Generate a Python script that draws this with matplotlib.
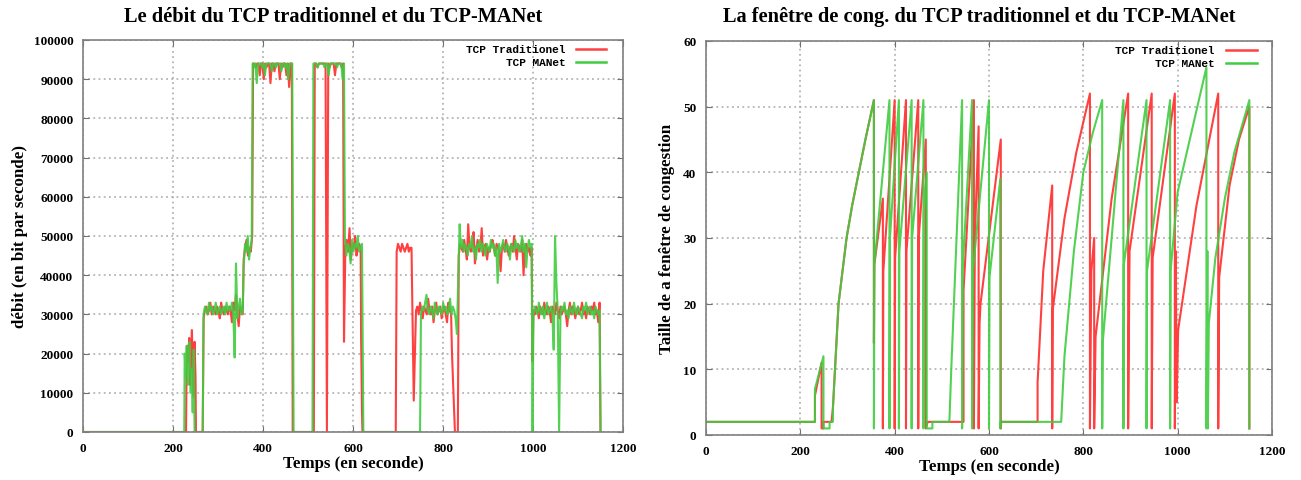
import numpy as np
import matplotlib
matplotlib.use('Agg')
import matplotlib.pyplot as plt

# Débit (en kbit/s) : segments (t_debut, t_fin, valeurs)
debit_trad = [
    (0, 229, [0, 0]),
    (230, 250, [15, 22, 18, 24, 12, 20, 26, 16, 9, 23, 14]),
    (251, 266, [0, 0]),
    (268, 355, [29, 31, 32, 30, 31, 33, 30, 32, 31, 30, 32, 31, 29, 33, 31,
                30, 32, 31, 30, 32, 31, 28, 33, 31, 35, 30, 27, 32, 31, 30]),
    (357, 376, [44, 47, 49, 45, 47, 46, 50]),
    (378, 464, [94, 94, 93, 94, 94, 91, 94, 94, 90, 94, 93, 94, 94, 89, 94,
                94, 92, 94, 94, 94, 90, 94, 93, 94, 94, 91, 94, 88, 94, 94]),
    (466, 513, [0, 0]),
    (515, 578, [94, 94, 93, 94, 94, 94, 94, 94, 94, 0, 94, 93, 94, 94, 94,
                91, 94, 94, 94, 94, 93, 94]),
    (580, 580, [23]),
    (583, 617, [47, 49, 46, 52, 44, 48, 47, 50, 45, 47, 48, 47]),
    (618, 620, [24, 5]),
    (621, 695, [0, 0]),
    (697, 730, [46, 48, 47, 46, 48, 47, 46, 47, 48, 46, 47, 47]),
    (735, 735, [8]),
    (740, 818, [31, 32, 30, 33, 31, 29, 32, 31, 30, 34, 31, 30, 32, 28, 31,
                33, 30, 31, 32, 29, 31, 32, 30, 28, 33, 31, 30]),
    (820, 833, [20, 0, 0]),
    (835, 997, [45, 48, 47, 46, 49, 47, 44, 53, 47, 46, 48, 51, 43, 47, 49,
                46, 47, 52, 45, 47, 48, 44, 47, 46, 48, 49, 47, 45, 48, 47,
                46, 41, 47, 48, 46, 49, 47, 45, 47, 48, 46, 50, 47, 44, 48,
                47, 46, 49, 40, 47, 48, 46, 47, 45, 47]),
    (999, 999, [18]),
    (1001, 1148, [31, 30, 32, 31, 29, 32, 31, 30, 33, 31, 30, 32, 31, 28, 32,
                  31, 30, 33, 31, 29, 32, 30, 31, 32, 30, 27, 31, 33, 30, 32,
                  31, 29, 31, 32, 30, 31, 33, 30, 31, 29, 32, 31, 30, 32, 31,
                  33, 30, 31, 28, 33]),
    (1150, 1150, [0]),
]

debit_manet = [
    (0, 225, [0, 0]),
    (226, 246, [20, 14, 22, 12, 18, 23, 10, 16, 5, 21]),
    (248, 266, [0, 0]),
    (268, 355, [30, 32, 31, 30, 33, 31, 32, 30, 31, 33, 30, 31, 32, 30, 31,
                32, 30, 33, 31, 32, 31, 33, 30, 19, 43, 29, 32, 34, 30, 31]),
    (357, 375, [42, 48, 46, 50, 44, 47, 49]),
    (377, 465, [94, 93, 94, 89, 94, 94, 94, 93, 94, 91, 94, 94, 94, 94, 92,
                94, 94, 93, 94, 94, 94, 92, 94, 94, 93, 94, 90, 94, 94, 94]),
    (468, 510, [0, 0]),
    (512, 580, [94, 94, 94, 93, 94, 94, 94, 94, 93, 94, 94, 91, 94, 94, 94,
                94, 94, 93, 94, 94, 94, 90, 94]),
    (582, 620, [50, 45, 48, 47, 43, 49, 46, 48, 47, 50, 46, 47, 48]),
    (623, 749, [0, 0]),
    (751, 828, [30, 32, 31, 33, 35, 31, 30, 32, 31, 29, 33, 31, 30, 32, 31,
                30, 33, 31, 32, 30, 31, 34, 30, 32, 31, 29]),
    (831, 837, [25, 40, 53]),
    (840, 997, [47, 49, 46, 48, 47, 45, 48, 47, 50, 46, 47, 44, 48, 47, 49,
                46, 48, 47, 45, 48, 47, 46, 49, 47, 48, 45, 47, 38, 48, 46,
                47, 49, 47, 46, 48, 47, 44, 48, 47, 46, 49, 47, 48, 46, 47,
                50, 46, 48, 42, 47, 49, 47, 48]),
    (999, 999, [0]),
    (1001, 1148, [30, 32, 31, 30, 33, 31, 30, 32, 29, 31, 33, 30, 31, 32, 30,
                  21, 50, 38, 31, 0, 30, 32, 31, 33, 30, 31, 29, 32, 31, 30,
                  33, 31, 30, 32, 31, 30, 29, 32, 31, 33, 30, 31, 32, 30, 31,
                  29, 32, 31, 30, 31]),
    (1150, 1150, [0]),
]

# Fenêtre de congestion : points (temps, taille)
cwnd_trad_t = [0, 231, 231, 245, 245, 249, 249, 266, 269, 281, 298, 310, 324,
               338, 356, 356, 357, 375, 375, 376, 400, 400, 401, 424, 424, 425,
               450, 450, 451, 466, 466, 470, 546, 546, 568, 568, 570, 578, 578,
               580, 582, 625, 625, 626, 703, 703, 715, 734, 734, 735, 760, 785,
               814, 814, 817, 823, 823, 826, 860, 895, 895, 898, 945, 945, 947,
               994, 994, 996, 998, 1001, 1040, 1086, 1086, 1088, 1110, 1130,
               1152, 1152]
cwnd_trad_v = [2, 2, 6, 11, 1, 1, 2, 2, 4, 20, 30, 35, 40, 45, 51, 14, 26, 36,
               1, 25, 51, 1, 27, 51, 1, 28, 51, 1, 30, 45, 1, 2, 2, 22, 51, 1,
               30, 47, 1, 17, 20, 45, 1, 2, 2, 8, 25, 38, 1, 19, 33, 43, 52, 1,
               25, 30, 1, 15, 36, 52, 1, 28, 52, 1, 27, 52, 1, 28, 5, 16, 35,
               52, 1, 24, 38, 45, 50, 1]

cwnd_manet_t = [0, 231, 231, 249, 249, 262, 262, 269, 269, 281, 298, 310, 324,
                338, 356, 356, 357, 389, 389, 390, 409, 409, 410, 436, 436, 437,
                461, 461, 462, 468, 468, 480, 480, 516, 520, 543, 543, 544, 564,
                564, 566, 600, 600, 601, 624, 624, 625, 753, 760, 780, 800, 820,
                840, 840, 841, 885, 885, 886, 934, 934, 935, 984, 984, 985, 1000,
                1061, 1061, 1063, 1064, 1066, 1080, 1100, 1120, 1152, 1152]
cwnd_manet_v = [2, 2, 7, 12, 1, 1, 2, 2, 4, 20, 30, 35, 40, 45, 51, 1, 26, 51,
                1, 30, 51, 1, 28, 51, 1, 30, 51, 1, 34, 40, 1, 1, 2, 2, 10, 51,
                1, 25, 51, 1, 25, 51, 1, 24, 39, 1, 2, 2, 12, 28, 40, 46, 51, 1,
                14, 51, 1, 26, 51, 1, 25, 51, 1, 25, 37, 56, 1, 28, 1, 17, 27,
                36, 43, 51, 1]


def serie(segments):
    t, v = [], []
    for t0, t1, vals in segments:
        t.extend(np.linspace(t0, t1, len(vals)))
        v.extend(vals)
    return np.array(t), np.array(v) * 1000


ROUGE = '#ff4040'
VERT = '#40cc40'
tick_font = dict(family='Liberation Serif', weight='bold', size=9.5)
label_font = dict(family='Liberation Serif', weight='bold', size=12.2)
title_font = dict(family='Liberation Serif', weight='bold', size=14.7)
leg_font = dict(family='Liberation Mono', weight='bold', size=8)

fig = plt.figure(figsize=(13.01, 4.81), dpi=100)
ax1 = fig.add_axes([83 / 1301, 1 - 433 / 481, 540 / 1301, 392 / 481])
ax2 = fig.add_axes([706 / 1301, 1 - 436 / 481, 566 / 1301, 394 / 481])


def habiller(ax, ymax, ystep, lx, ly):
    ax.set_xlim(0, 1200)
    ax.set_ylim(0, ymax)
    ax.set_xticks(np.arange(0, 1201, 200))
    ax.set_yticks(np.arange(0, ymax + 1, ystep))
    ax.grid(True, color='#a8a8a8', linestyle=(0, (1.2, 2.2)), linewidth=1.1)
    ax.tick_params(direction='in', length=4, top=True, right=True,
                   color='#707070', pad=7)
    for lab in ax.get_xticklabels() + ax.get_yticklabels():
        lab.set_fontproperties(matplotlib.font_manager.FontProperties(**tick_font))
    for sp in ax.spines.values():
        sp.set_color('#808080')
        sp.set_linewidth(1.2)
    # légende à la gnuplot
    for i, (nom, col) in enumerate([('TCP Traditionel', ROUGE), ('TCP MANet', VERT)]):
        y = ly - i * 0.035
        ax.text(lx, y, nom, transform=ax.transAxes, ha='right', va='center',
                **leg_font)
        ax.plot([lx + 0.02, lx + 0.075], [y, y], transform=ax.transAxes,
                color=col, lw=1.8)


t_r, v_r = serie(debit_trad)
t_g, v_g = serie(debit_manet)
ax1.plot(t_r, v_r, color=ROUGE, lw=1.5)
ax1.plot(t_g, v_g, color=VERT, lw=1.5, alpha=0.9)
habiller(ax1, 100000, 10000, 0.893, 0.978)
ax1.set_xlabel('Temps (en seconde)', labelpad=1, **label_font)
ax1.set_ylabel('débit (en bit par seconde)', labelpad=4, **label_font)

ax2.plot(cwnd_trad_t, cwnd_trad_v, color=ROUGE, lw=1.5)
ax2.plot(cwnd_manet_t, cwnd_manet_v, color=VERT, lw=1.5, alpha=0.9)
habiller(ax2, 60, 10, 0.899, 0.978)
ax2.set_xlabel('Temps (en seconde)', labelpad=1, **label_font)
ax2.set_ylabel('Taille de a fenêtre de congestion', labelpad=6, **label_font)

fig.text(333 / 1301, 1 - 17 / 481, 'Le débit du TCP traditionnel et du TCP-MANet',
         ha='center', va='center', **title_font)
fig.text(979 / 1301, 1 - 17 / 481,
         'La fenêtre de cong. du TCP traditionnel et du TCP-MANet',
         ha='center', va='center', **title_font)

plt.savefig('out.png', dpi=100)
